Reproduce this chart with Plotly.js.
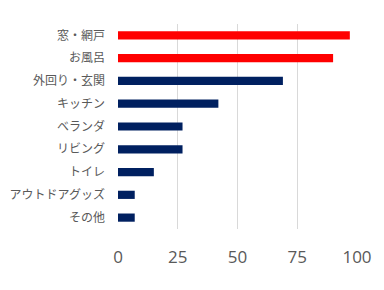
<!DOCTYPE html>
<html><head><meta charset="utf-8">
<script src="https://cdn.plot.ly/plotly-3.0.1.min.js"></script>
<style>html,body{margin:0;padding:0;background:#fff;}#c{width:384px;height:290px;}</style>
</head><body><div id="c"></div>
<script>
const categories = ["窓・網戸","お風呂","外回り・玄関","キッチン","ベランダ","リビング","トイレ","アウトドアグッズ","その他"];
const values = [97, 90, 69, 42, 27, 27, 15, 7, 7];
const colors = ["#ff0000","#ff0000","#002060","#002060","#002060","#002060","#002060","#002060","#002060"];
const xTicks = [0, 25, 50, 75, 100];

Plotly.newPlot('c', [{
  type: 'bar', orientation: 'h',
  y: categories, x: values,
  marker: {color: colors},
  width: 0.36,
  hoverinfo: 'none'
}], {
  width: 384, height: 290,
  margin: {l: 118, r: 27, t: 24, b: 61},
  paper_bgcolor: '#fff', plot_bgcolor: '#fff',
  showlegend: false,
  font: {family: '"Noto Sans CJK JP", "Noto Sans", sans-serif', color: '#595959'},
  xaxis: {
    range: [0, 100], tickvals: xTicks, ticktext: xTicks.map(String),
    showgrid: true, gridcolor: '#d9d9d9', gridwidth: 1,
    zeroline: false, showline: false, ticks: '',
    ticklabelstandoff: 16,
    tickfont: {size: 17, color: '#595959', family: '"Open Sans", "Noto Sans", sans-serif'}
  },
  yaxis: {
    categoryorder: 'array', categoryarray: categories, autorange: 'reversed',
    showgrid: false, zeroline: false, showline: false, ticks: '',
    ticklabelstandoff: 12,
    tickfont: {size: 12, color: '#595959'}
  }
}, {staticPlot: true, displayModeBar: false});
</script></body></html>
